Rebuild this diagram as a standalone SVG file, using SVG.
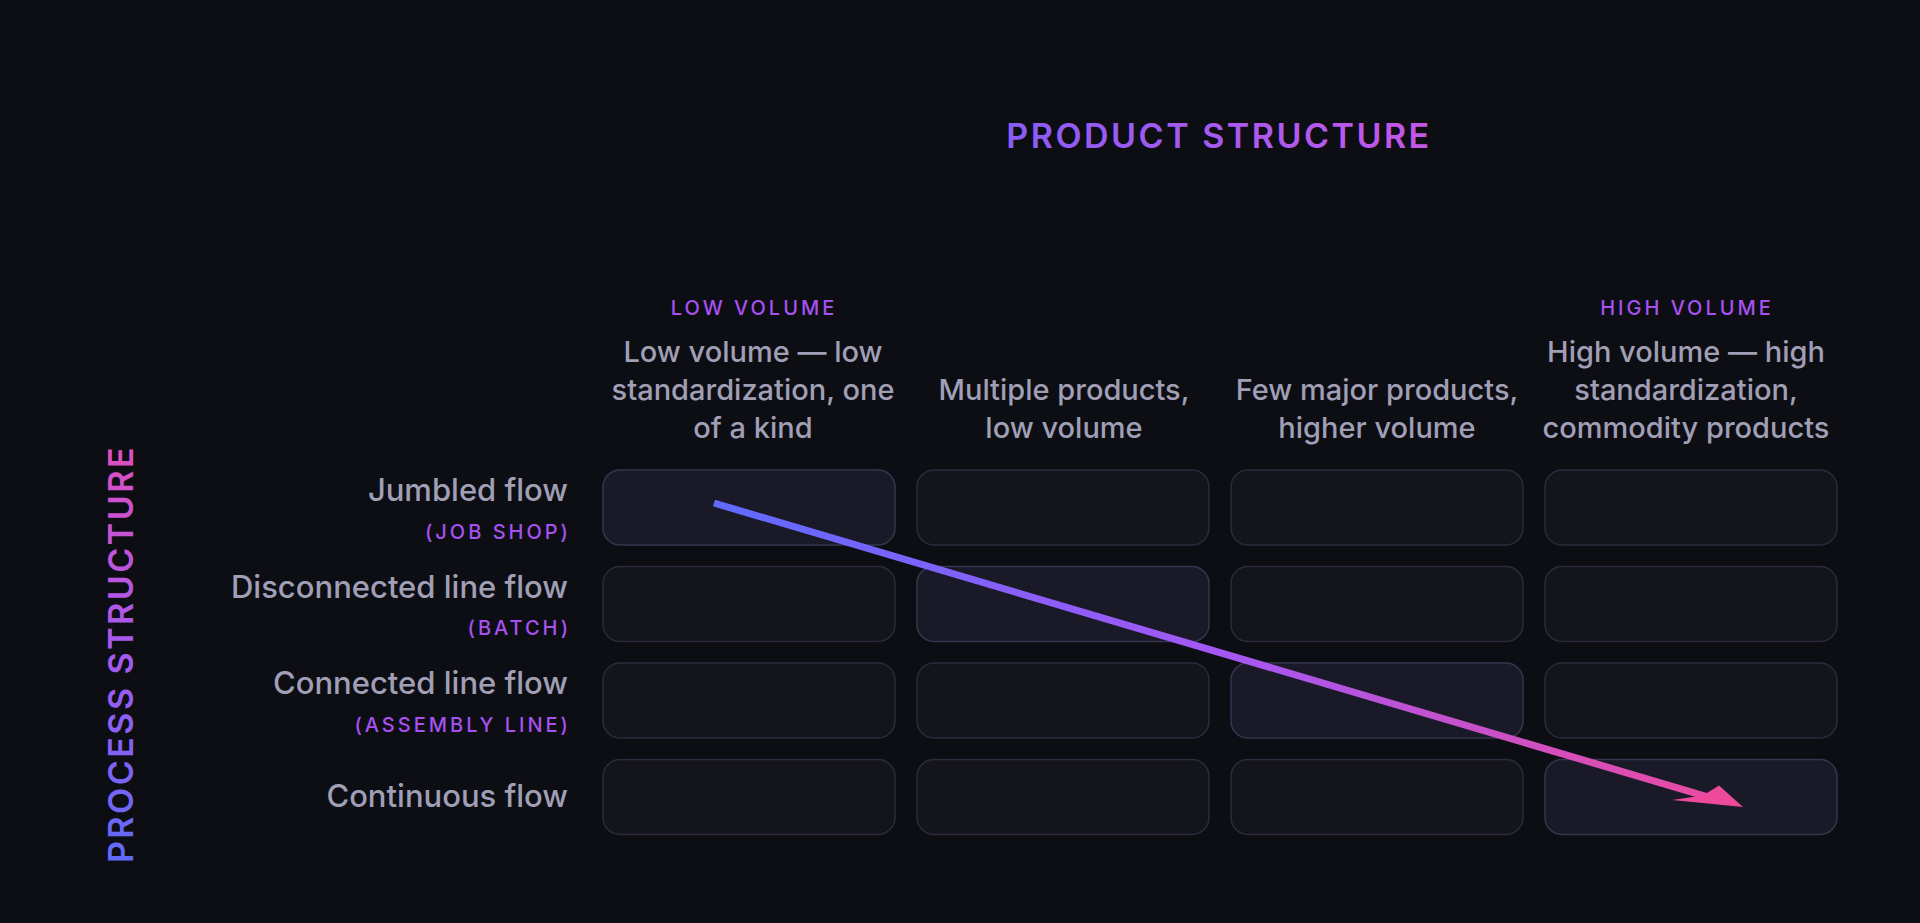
<svg xmlns="http://www.w3.org/2000/svg" width="1920" height="923" viewBox="0 0 1920 923">
<defs>
<linearGradient id="gTitle" x1="1008" y1="0" x2="1428" y2="0" gradientUnits="userSpaceOnUse">
<stop offset="0" stop-color="#8a5cf6"/><stop offset="1" stop-color="#c557e8"/>
</linearGradient>
<linearGradient id="gSide" x1="-207" y1="0" x2="207" y2="0" gradientUnits="userSpaceOnUse">
<stop offset="0" stop-color="#5f6af8"/><stop offset="0.5" stop-color="#a45af0"/><stop offset="1" stop-color="#de4fbf"/>
</linearGradient>
<linearGradient id="gArrow" x1="714" y1="503" x2="1743" y2="807" gradientUnits="userSpaceOnUse">
<stop offset="0" stop-color="#5f6bff"/><stop offset="0.5" stop-color="#a557f3"/><stop offset="1" stop-color="#ee4a9c"/>
</linearGradient>
<style>
.bg{fill:#0d0e13}
.cell{fill:#14141d;stroke:#2c2b3c;stroke-width:1.5}
.hot{fill:#191927;stroke:#373550;stroke-width:1.5}
.t{font-family:Inter,"Noto Sans",sans-serif;font-size:29px;fill:#a09fb6;font-weight:500}
.rl{font-size:31px}
.cap{font-family:Inter,"Noto Sans",sans-serif;font-size:20px;fill:#a651f0;font-weight:500;letter-spacing:3px}
.big{font-family:Inter,"Noto Sans",sans-serif;font-size:34px;font-weight:600;letter-spacing:2.5px}
</style>
</defs>
<rect class="bg" x="0" y="0" width="1920" height="923"/>
<g id="title-product"><text class="big" x="1219" y="148" text-anchor="middle" fill="url(#gTitle)">PRODUCT STRUCTURE</text></g>
<g id="title-process"><text class="big" transform="translate(133,654) rotate(-90)" x="0" y="0" text-anchor="middle" fill="url(#gSide)">PROCESS STRUCTURE</text></g>
<g id="col1-header">
<text class="cap" x="754" y="315" text-anchor="middle">LOW VOLUME</text>
<text class="t" text-anchor="middle"><tspan x="753" y="362">Low volume — low</tspan><tspan x="753" y="400">standardization, one</tspan><tspan x="753" y="438">of a kind</tspan></text>
</g>
<g id="col2-header"><text class="t" text-anchor="middle"><tspan x="1064" y="400">Multiple products,</tspan><tspan x="1064" y="438">low volume</tspan></text></g>
<g id="col3-header"><text class="t" text-anchor="middle"><tspan x="1377" y="400">Few major products,</tspan><tspan x="1377" y="438">higher volume</tspan></text></g>
<g id="col4-header">
<text class="cap" x="1687" y="315" text-anchor="middle">HIGH VOLUME</text>
<text class="t" text-anchor="middle"><tspan x="1686" y="362">High volume — high</tspan><tspan x="1686" y="400">standardization,</tspan><tspan x="1686" y="438">commodity products</tspan></text>
</g>
<g id="row1-label"><text class="t rl" x="568" y="501" text-anchor="end">Jumbled flow</text><text class="cap" x="571" y="538.5" text-anchor="end">(JOB SHOP)</text></g>
<g id="row2-label"><text class="t rl" x="568" y="597.5" text-anchor="end">Disconnected line flow</text><text class="cap" x="571" y="635" text-anchor="end">(BATCH)</text></g>
<g id="row3-label"><text class="t rl" x="568" y="693.5" text-anchor="end">Connected line flow</text><text class="cap" x="571" y="732" text-anchor="end">(ASSEMBLY LINE)</text></g>
<g id="row4-label"><text class="t rl" x="568" y="807" text-anchor="end">Continuous flow</text></g>
<g id="r1c1"><rect class="hot" x="603" y="470" width="292" height="75" rx="17"/></g>
<g id="r1c2"><rect class="cell" x="917" y="470" width="292" height="75" rx="17"/></g>
<g id="r1c3"><rect class="cell" x="1231" y="470" width="292" height="75" rx="17"/></g>
<g id="r1c4"><rect class="cell" x="1545" y="470" width="292" height="75" rx="17"/></g>
<g id="r2c1"><rect class="cell" x="603" y="566.5" width="292" height="75" rx="17"/></g>
<g id="r2c2"><rect class="hot" x="917" y="566.5" width="292" height="75" rx="17"/></g>
<g id="r2c3"><rect class="cell" x="1231" y="566.5" width="292" height="75" rx="17"/></g>
<g id="r2c4"><rect class="cell" x="1545" y="566.5" width="292" height="75" rx="17"/></g>
<g id="r3c1"><rect class="cell" x="603" y="663" width="292" height="75" rx="17"/></g>
<g id="r3c2"><rect class="cell" x="917" y="663" width="292" height="75" rx="17"/></g>
<g id="r3c3"><rect class="hot" x="1231" y="663" width="292" height="75" rx="17"/></g>
<g id="r3c4"><rect class="cell" x="1545" y="663" width="292" height="75" rx="17"/></g>
<g id="r4c1"><rect class="cell" x="603" y="759.5" width="292" height="75" rx="17"/></g>
<g id="r4c2"><rect class="cell" x="917" y="759.5" width="292" height="75" rx="17"/></g>
<g id="r4c3"><rect class="cell" x="1231" y="759.5" width="292" height="75" rx="17"/></g>
<g id="r4c4"><rect class="hot" x="1545" y="759.5" width="292" height="75" rx="17"/></g>
<g id="connectors">
<line x1="714" y1="503" x2="1706" y2="796.3" stroke="url(#gArrow)" stroke-width="7"/>
<polygon points="1743,807 1719,785.5 1703,795.5 1672,800" fill="#ee4a9c"/>
</g>
</svg>
